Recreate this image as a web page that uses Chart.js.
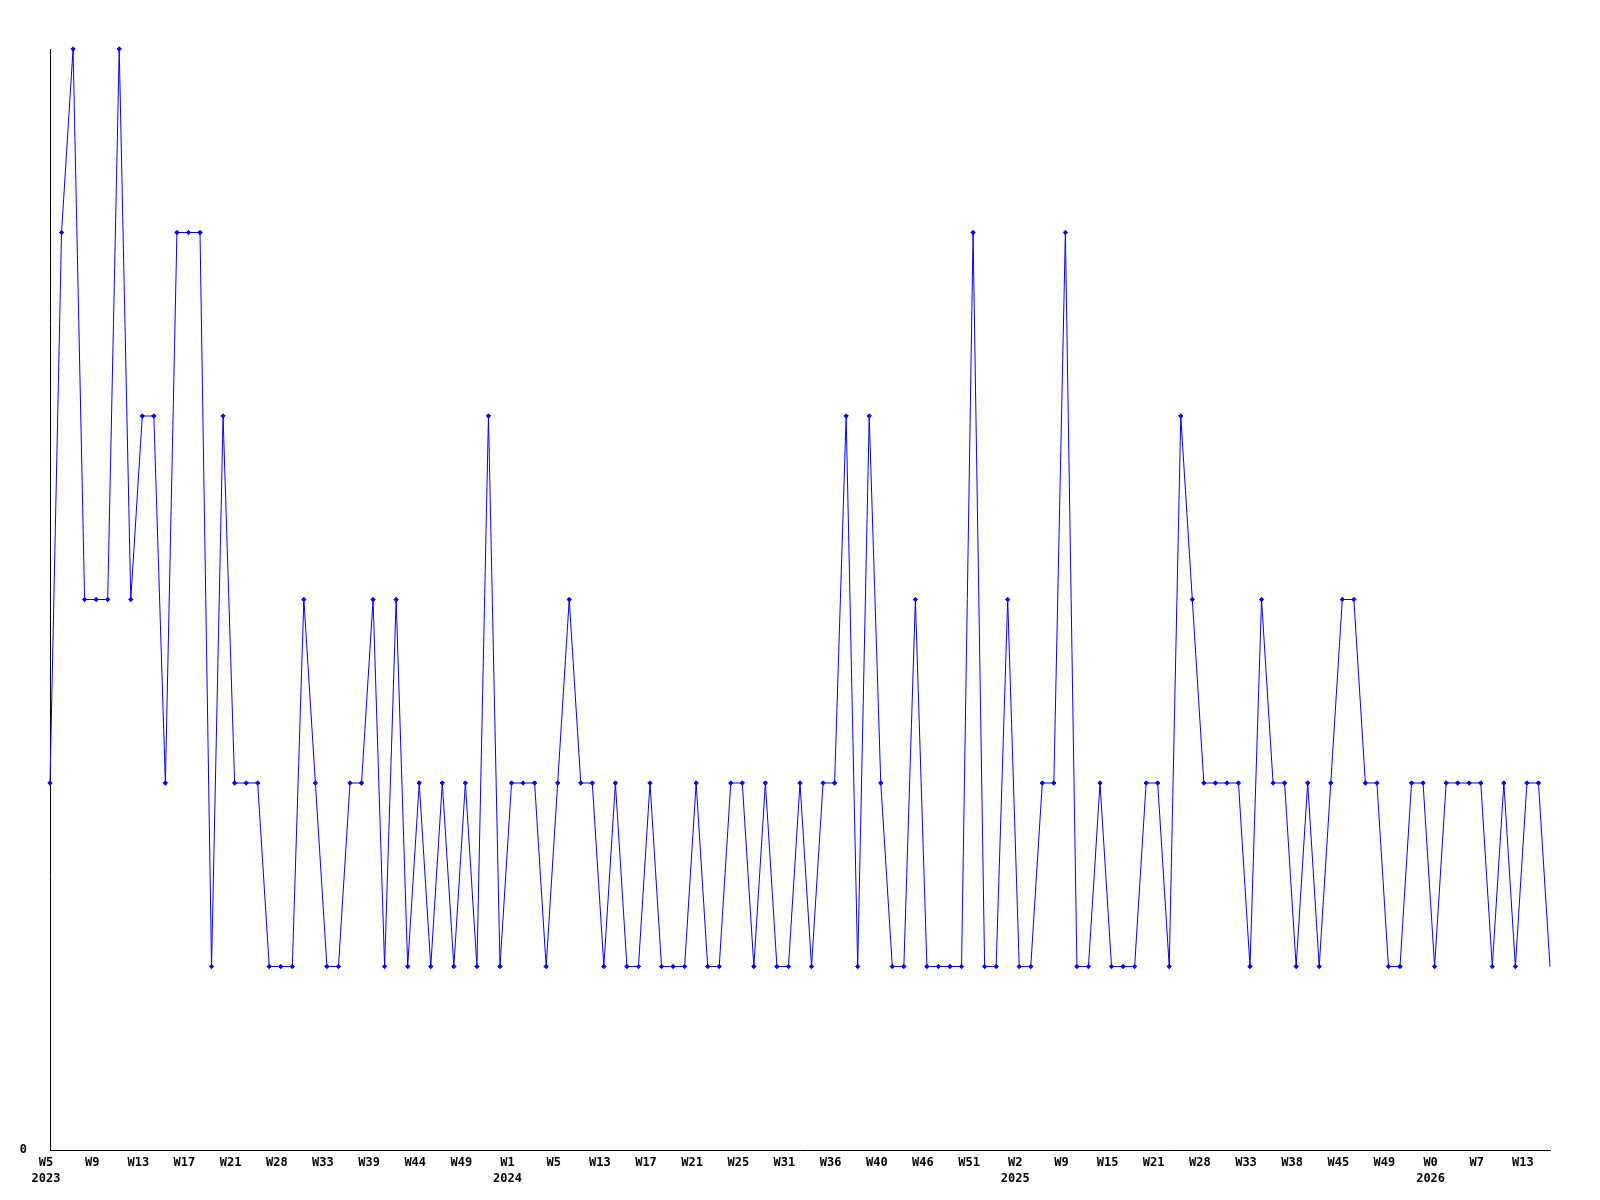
<!DOCTYPE html>
<html>
<head>
    <title>Weekly Count</title>
    <script src="https://cdn.jsdelivr.net/npm/chart.js"></script>
    <style>
        body {
            margin: 0;
            padding: 0;
            background: white;
        }
        canvas {
            display: block;
        }
    </style>
</head>
<body>
    <canvas id="myChart" width="1600" height="1200"></canvas>
    <script>
        // one value per week, first point is 2023 W5
        const values = [
            2, 5, 6, 3, 3, 3, 6, 3, 4, 4,
            2, 5, 5, 5, 1, 4, 2, 2, 2, 1,
            1, 1, 3, 2, 1, 1, 2, 2, 3, 1,
            3, 1, 2, 1, 2, 1, 2, 1, 4, 1,
            2, 2, 2, 1, 2, 3, 2, 2, 1, 2,
            1, 1, 2, 1, 1, 1, 2, 1, 1, 2,
            2, 1, 2, 1, 1, 2, 1, 2, 2, 4,
            1, 4, 2, 1, 1, 3, 1, 1, 1, 1,
            5, 1, 1, 3, 1, 1, 2, 2, 5, 1,
            1, 2, 1, 1, 1, 2, 2, 1, 4, 3,
            2, 2, 2, 2, 1, 3, 2, 2, 1, 2,
            1, 2, 3, 3, 2, 2, 1, 1, 2, 2,
            1, 2, 2, 2, 2, 1, 2, 1, 2, 2,
            1
        ];

        // labels shown on every 4th week
        const weekTicks = ['W5', 'W9', 'W13', 'W17', 'W21', 'W28', 'W33', 'W39', 'W44', 'W49',
            'W1', 'W5', 'W13', 'W17', 'W21', 'W25', 'W31', 'W36', 'W40', 'W46', 'W51',
            'W2', 'W9', 'W15', 'W21', 'W28', 'W33', 'W38', 'W45', 'W49',
            'W0', 'W7', 'W13'];
        const yearTicks = ['2023', '', '', '', '', '', '', '', '', '',
            '2024', '', '', '', '', '', '', '', '', '', '',
            '2025', '', '', '', '', '', '', '', '',
            '2026', '', ''];
        const tickEvery = 4;

        const labels = values.map((v, i) => {
            if (i % tickEvery !== 0) return '';
            const k = i / tickEvery;
            return yearTicks[k] ? [weekTicks[k], yearTicks[k]] : weekTicks[k];
        });

        const tickFont = { family: 'DejaVu Sans Mono', size: 12, weight: 'bold', lineHeight: 1.3 };

        const ctx = document.getElementById('myChart').getContext('2d');
        new Chart(ctx, {
            type: 'line',
            data: {
                labels: labels,
                datasets: [{
                    data: values,
                    borderColor: '#0000ff',
                    backgroundColor: '#0000ff',
                    borderWidth: 1,
                    tension: 0,
                    fill: false,
                    clip: false,
                    pointStyle: 'rectRot',
                    pointRadius: (c) => c.dataIndex === values.length - 1 ? 0 : 2.2,
                    pointBorderWidth: 1
                }]
            },
            options: {
                responsive: false,
                animation: false,
                events: [],
                layout: {
                    padding: { top: 49, right: 50, left: 0, bottom: 0 }
                },
                plugins: {
                    legend: { display: false },
                    tooltip: { enabled: false }
                },
                scales: {
                    x: {
                        offset: false,
                        grid: { display: false },
                        border: { display: true, color: '#000000', width: 1 },
                        ticks: {
                            autoSkip: false,
                            maxRotation: 0,
                            minRotation: 0,
                            padding: -3,
                            labelOffset: -4,
                            color: '#000000',
                            font: tickFont
                        },
                        afterFit: (scale) => { scale.height = 50; }
                    },
                    y: {
                        min: 0,
                        max: 6,
                        grid: { display: false },
                        border: { display: true, color: '#000000', width: 1 },
                        ticks: {
                            stepSize: 1,
                            padding: 15,
                            color: '#000000',
                            font: tickFont,
                            callback: (v) => v === 0 ? '0' : ''
                        },
                        afterFit: (scale) => { scale.width = 50; }
                    }
                }
            }
        });
    </script>
</body>
</html>
